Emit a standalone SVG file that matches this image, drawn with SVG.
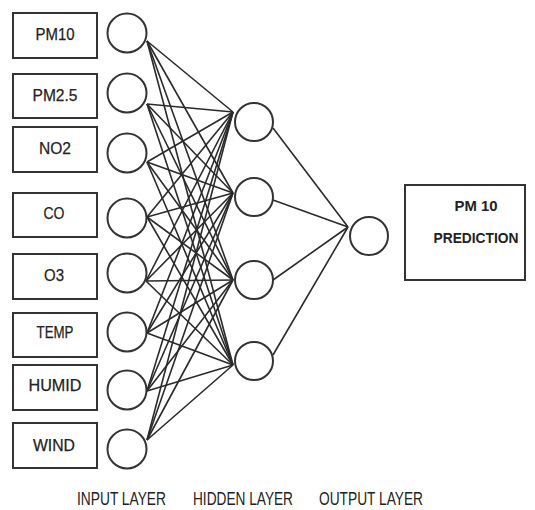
<svg xmlns="http://www.w3.org/2000/svg" width="535" height="510" viewBox="0 0 535 510">
<style>
.box{fill:#fff;stroke:#333;stroke-width:2}
.node{fill:#fff;stroke:#333;stroke-width:2}
.lbl{font-family:"Liberation Sans",Arial,sans-serif;font-size:17px;fill:#222;stroke:#222;stroke-width:0.25;text-anchor:middle}
.out{font-family:"Liberation Sans",Arial,sans-serif;font-size:15px;font-weight:bold;fill:#222;text-anchor:middle}
.layer{font-family:"Liberation Sans",Arial,sans-serif;font-size:18px;fill:#222;text-anchor:middle}
.edges line{stroke:#2a2a2a;stroke-width:1.6}
</style>
<rect width="535" height="510" fill="#fff"/>
<g id="connectors" class="edges">
<line x1="147" y1="41" x2="233" y2="112"/><line x1="147" y1="41" x2="233" y2="193"/><line x1="147" y1="41" x2="233" y2="280"/><line x1="147" y1="41" x2="233" y2="365"/>
<line x1="147" y1="104" x2="233" y2="112"/><line x1="147" y1="104" x2="233" y2="193"/><line x1="147" y1="104" x2="233" y2="280"/><line x1="147" y1="104" x2="233" y2="365"/>
<line x1="147" y1="162" x2="233" y2="112"/><line x1="147" y1="162" x2="233" y2="193"/><line x1="147" y1="162" x2="233" y2="280"/><line x1="147" y1="162" x2="233" y2="365"/>
<line x1="147" y1="217" x2="233" y2="112"/><line x1="147" y1="217" x2="233" y2="193"/><line x1="147" y1="217" x2="233" y2="280"/><line x1="147" y1="217" x2="233" y2="365"/>
<line x1="146" y1="281" x2="233" y2="112"/><line x1="146" y1="281" x2="233" y2="193"/><line x1="146" y1="281" x2="233" y2="280"/><line x1="146" y1="281" x2="233" y2="365"/>
<line x1="147" y1="333" x2="233" y2="112"/><line x1="147" y1="333" x2="233" y2="193"/><line x1="147" y1="333" x2="233" y2="280"/><line x1="147" y1="333" x2="233" y2="365"/>
<line x1="147" y1="391" x2="233" y2="112"/><line x1="147" y1="391" x2="233" y2="193"/><line x1="147" y1="391" x2="233" y2="280"/><line x1="147" y1="391" x2="233" y2="365"/>
<line x1="147" y1="440" x2="233" y2="112"/><line x1="147" y1="440" x2="233" y2="193"/><line x1="147" y1="440" x2="233" y2="280"/><line x1="147" y1="440" x2="233" y2="365"/>
<line x1="273" y1="128" x2="348" y2="227"/><line x1="273" y1="200" x2="348" y2="227"/><line x1="273" y1="280" x2="348" y2="227"/><line x1="273" y1="355" x2="348" y2="227"/>
</g>
<g id="in-pm10"><rect class="box" x="13" y="13" width="84" height="45"/><text class="lbl" x="55" y="40" textLength="39" lengthAdjust="spacingAndGlyphs">PM10</text></g>
<g id="in-pm25"><rect class="box" x="13" y="74" width="84" height="44"/><text class="lbl" x="55" y="101" textLength="45" lengthAdjust="spacingAndGlyphs">PM2.5</text></g>
<g id="in-no2"><rect class="box" x="13" y="127" width="84" height="45"/><text class="lbl" x="55" y="154" textLength="32" lengthAdjust="spacingAndGlyphs">NO2</text></g>
<g id="in-co"><rect class="box" x="13" y="193" width="84" height="44"/><text class="lbl" x="54" y="219" textLength="21" lengthAdjust="spacingAndGlyphs">CO</text></g>
<g id="in-o3"><rect class="box" x="13" y="254" width="84" height="45"/><text class="lbl" x="54" y="281" textLength="20" lengthAdjust="spacingAndGlyphs">O3</text></g>
<g id="in-temp"><rect class="box" x="13" y="313" width="84" height="44"/><text class="lbl" x="55" y="338" textLength="37" lengthAdjust="spacingAndGlyphs">TEMP</text></g>
<g id="in-humid"><rect class="box" x="13" y="365" width="84" height="45"/><text class="lbl" x="55" y="391" textLength="53" lengthAdjust="spacingAndGlyphs">HUMID</text></g>
<g id="in-wind"><rect class="box" x="13" y="423" width="84" height="45"/><text class="lbl" x="54" y="451" textLength="42" lengthAdjust="spacingAndGlyphs">WIND</text></g>
<g id="i1"><circle class="node" cx="127" cy="33" r="19.5"/></g>
<g id="i2"><circle class="node" cx="127" cy="93" r="19.5"/></g>
<g id="i3"><circle class="node" cx="127" cy="153" r="19.5"/></g>
<g id="i4"><circle class="node" cx="127" cy="218" r="19.5"/></g>
<g id="i5"><circle class="node" cx="127" cy="273" r="19.5"/></g>
<g id="i6"><circle class="node" cx="127" cy="332" r="19.5"/></g>
<g id="i7"><circle class="node" cx="127" cy="390" r="19.5"/></g>
<g id="i8"><circle class="node" cx="127" cy="449" r="19.5"/></g>
<g id="h1"><circle class="node" cx="254" cy="122" r="19"/></g>
<g id="h2"><circle class="node" cx="254" cy="197" r="19"/></g>
<g id="h3"><circle class="node" cx="254" cy="280" r="19"/></g>
<g id="h4"><circle class="node" cx="254" cy="361" r="19"/></g>
<g id="o1"><circle class="node" cx="369" cy="236" r="19"/></g>
<g id="prediction"><rect class="box" x="405" y="185" width="120" height="95"/><text class="out" x="476" y="211" textLength="43" lengthAdjust="spacingAndGlyphs">PM 10</text><text class="out" x="476" y="243" textLength="85" lengthAdjust="spacingAndGlyphs">PREDICTION</text></g>
<g id="layer-labels">
<text class="layer" x="121.5" y="505" textLength="89" lengthAdjust="spacingAndGlyphs">INPUT LAYER</text>
<text class="layer" x="243" y="505" textLength="100" lengthAdjust="spacingAndGlyphs">HIDDEN LAYER</text>
<text class="layer" x="371" y="505" textLength="104" lengthAdjust="spacingAndGlyphs">OUTPUT LAYER</text>
</g>
</svg>
